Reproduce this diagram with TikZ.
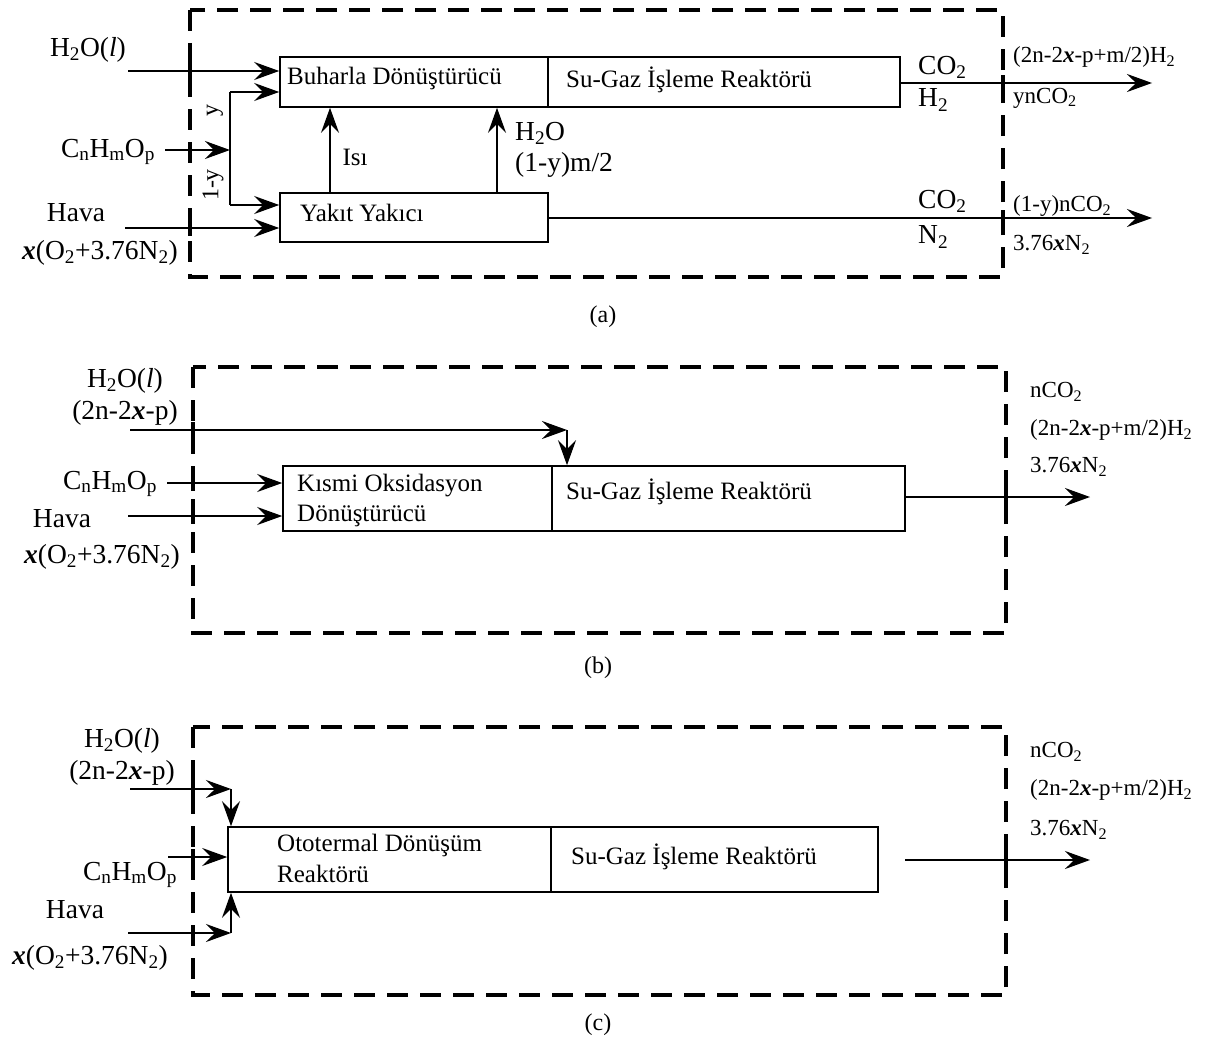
\documentclass[tikz,border=0pt]{standalone}
\usepackage{fontspec}
\setmainfont{Liberation Serif}
\usetikzlibrary{arrows.meta}
\newcommand\sbs[1]{\textsubscript{#1}}
\newcommand\bxi{\textbf{\textit{x}}}
\begin{document}
\begin{tikzpicture}[x=1pt,y=-1pt,
  ln/.style={line width=1.6pt},
  arr/.style={ln,-{Stealth[length=25pt,width=18pt,inset=9pt]}},
  frame/.style={line width=4pt,dash pattern=on 21pt off 12pt},
  tickmark/.style={line width=4pt},
  box/.style={draw,line width=1.6pt,inner sep=0pt},
  btxt/.style={font=\fontsize{25}{29}\selectfont,anchor=west,inner sep=0pt},
  lbl/.style={font=\fontsize{27.5}{31}\selectfont,inner sep=0pt},
  sml/.style={font=\fontsize{23}{27}\selectfont,anchor=west,inner sep=0pt},
  captxt/.style={font=\fontsize{24}{28}\selectfont,inner sep=0pt}]
\useasboundingbox (0,0) rectangle (1207,1041);
\fill[white] (0,0) rectangle (1207,1041);

%%%%%%%%%%%%%%%% (a)
\draw[frame] (190,10) rectangle (1003,277);
\foreach \yy in {71,150,228} \draw[tickmark] (190,\yy-8) -- (190,\yy+8);
\foreach \yy in {83,218} \draw[tickmark] (1003,\yy-8) -- (1003,\yy+8);

\node[box,minimum width=268,minimum height=50] (bd) at (414,82) {};
\node[box,minimum width=352,minimum height=50] (sga) at (724,82) {};
\node[box,minimum width=268,minimum height=49] (yy) at (414,217.5) {};
\node[btxt] (bdt) at (287,78) {Buharla Dönüştürücü};
\node[btxt] (sgat) at (566,80) {Su-Gaz İşleme Reaktörü};
\node[btxt] (yyt) at (300,213) {Yakıt Yakıcı};

\node[lbl] (ah2o) at (88,50) {H\sbs{2}O(\textit{l})};
\node[lbl] (afuel) at (108,152) {C\sbs{n}H\sbs{m}O\sbs{p}};
\node[lbl] (ahava) at (76,213) {Hava};
\node[lbl] (aair) at (100,253) {\bxi(O\sbs{2}+3.76N\sbs{2})};

\coordinate (aw) at (128,71);
\coordinate (af) at (165,150);
\coordinate (ab) at (230,150);
\coordinate (abt) at (230,92);
\coordinate (abb) at (230,205);
\coordinate (ah) at (125,228);
\draw[arr] (aw) -- (aw -| bd.west);
\draw[arr] (af) -- (ab);
\draw[ln] (abt) -- (abb);
\draw[arr] (abt) -- (abt -| bd.west);
\draw[arr] (abb) -- (abb -| yy.west);
\draw[arr] (ah) -- (ah -| yy.west);
\node[lbl,rotate=90,font=\fontsize{24}{28}\selectfont] (ay) at (215,110) {y};
\node[lbl,rotate=90,font=\fontsize{24}{28}\selectfont] (a1y) at (213,185) {1-y};

\coordinate (aisi) at (330,217);
\coordinate (awat) at (497,217);
\draw[arr] (aisi |- yy.north) -- (aisi |- bd.south);
\draw[arr] (awat |- yy.north) -- (awat |- bd.south);
\node[lbl,font=\fontsize{25}{29}\selectfont] (aisit) at (355,157) {Isı};
\node[lbl,anchor=west] (awt1) at (515,133) {H\sbs{2}O};
\node[lbl,anchor=west] (awt2) at (515,165) {(1-y)m/2};

\coordinate (ao1) at (1152,83);
\coordinate (ao2) at (1152,218);
\draw[arr] (sga.east |- ao1) -- (ao1);
\draw[arr] (yy.east |- ao2) -- (ao2);
\node[lbl,anchor=west] (aco1) at (918,67) {CO\sbs{2}};
\node[lbl,anchor=west] (ah2) at (918,100) {H\sbs{2}};
\node[lbl,anchor=west] (aco2) at (918,201) {CO\sbs{2}};
\node[lbl,anchor=west] (an2) at (918,237) {N\sbs{2}};
\node[sml] (ar1) at (1013,57) {(2n-2\bxi-p+m/2)H\sbs{2}};
\node[sml] (ar2) at (1013,98) {ynCO\sbs{2}};
\node[sml] (ar3) at (1013,206) {(1-y)nCO\sbs{2}};
\node[sml] (ar4) at (1013,245) {3.76\bxi N\sbs{2}};
\node[captxt] (capa) at (603,317) {(a)};

%%%%%%%%%%%%%%%% (b)
\draw[frame] (193,367) rectangle (1006,633);
\foreach \yy in {430,483,516} \draw[tickmark] (193,\yy-8) -- (193,\yy+8);
\draw[tickmark] (1006,489) -- (1006,505);

\node[box,minimum width=269,minimum height=65] (ko) at (417.5,498.5) {};
\node[box,minimum width=353,minimum height=65] (sgb) at (728.5,498.5) {};
\node[btxt] (kot1) at (297,486) {Kısmi Oksidasyon};
\node[btxt] (kot2) at (297,516) {Dönüştürücü};
\node[btxt] (sgbt) at (566,492) {Su-Gaz İşleme Reaktörü};

\node[lbl] (bh2o) at (125,381) {H\sbs{2}O(\textit{l})};
\node[lbl] (bh2o2) at (125,413) {(2n-2\bxi-p)};
\node[lbl] (bfuel) at (110,484) {C\sbs{n}H\sbs{m}O\sbs{p}};
\node[lbl] (bhava) at (62,519) {Hava};
\node[lbl] (bair) at (102,557) {\bxi(O\sbs{2}+3.76N\sbs{2})};

\coordinate (bw) at (130,430);
\coordinate (bwk) at (567,430);
\coordinate (bf) at (167,483);
\coordinate (bh) at (128,516);
\draw[arr] (bw) -- (bwk);
\draw[arr] (bwk) -- (bwk |- sgb.north);
\draw[arr] (bf) -- (bf -| ko.west);
\draw[arr] (bh) -- (bh -| ko.west);
\coordinate (bo) at (1090,497);
\draw[arr] (sgb.east |- bo) -- (bo);
\node[sml] (br1) at (1030,392) {nCO\sbs{2}};
\node[sml] (br2) at (1030,430) {(2n-2\bxi-p+m/2)H\sbs{2}};
\node[sml] (br3) at (1030,467) {3.76\bxi N\sbs{2}};
\node[captxt] (capb) at (598,668) {(b)};

%%%%%%%%%%%%%%%% (c)
\draw[frame] (193,727) rectangle (1006,995);
\foreach \yy in {789,857,933} \draw[tickmark] (193,\yy-8) -- (193,\yy+8);
\draw[tickmark] (1006,852) -- (1006,868);

\node[box,minimum width=323,minimum height=65] (ot) at (389.5,859.5) {};
\node[box,minimum width=327,minimum height=65] (sgc) at (714.5,859.5) {};
\node[btxt] (ott1) at (277,845) {Ototermal Dönüşüm};
\node[btxt] (ott2) at (277,874) {Reaktörü};
\node[btxt] (sgct) at (571,857) {Su-Gaz İşleme Reaktörü};

\node[lbl] (ch2o) at (122,741) {H\sbs{2}O(\textit{l})};
\node[lbl] (ch2o2) at (122,773) {(2n-2\bxi-p)};
\node[lbl] (cfuel) at (130,875) {C\sbs{n}H\sbs{m}O\sbs{p}};
\node[lbl] (chava) at (75,910) {Hava};
\node[lbl] (cair) at (90,958) {\bxi(O\sbs{2}+3.76N\sbs{2})};

\coordinate (cw) at (130,789);
\coordinate (cwk) at (231,789);
\coordinate (cf) at (168,857);
\coordinate (ch) at (128,933);
\coordinate (chk) at (231,933);
\draw[arr] (cw) -- (cwk);
\draw[arr] (cwk) -- (cwk |- ot.north);
\draw[arr] (cf) -- (cf -| ot.west);
\draw[arr] (ch) -- (chk);
\draw[arr] (chk) -- (chk |- ot.south);
\coordinate (co1) at (905,860);
\coordinate (co2) at (1090,860);
\draw[arr] (co1) -- (co2);
\node[sml] (cr1) at (1030,752) {nCO\sbs{2}};
\node[sml] (cr2) at (1030,790) {(2n-2\bxi-p+m/2)H\sbs{2}};
\node[sml] (cr3) at (1030,830) {3.76\bxi N\sbs{2}};
\node[captxt] (capc) at (598,1025) {(c)};
\end{tikzpicture}
\end{document}
